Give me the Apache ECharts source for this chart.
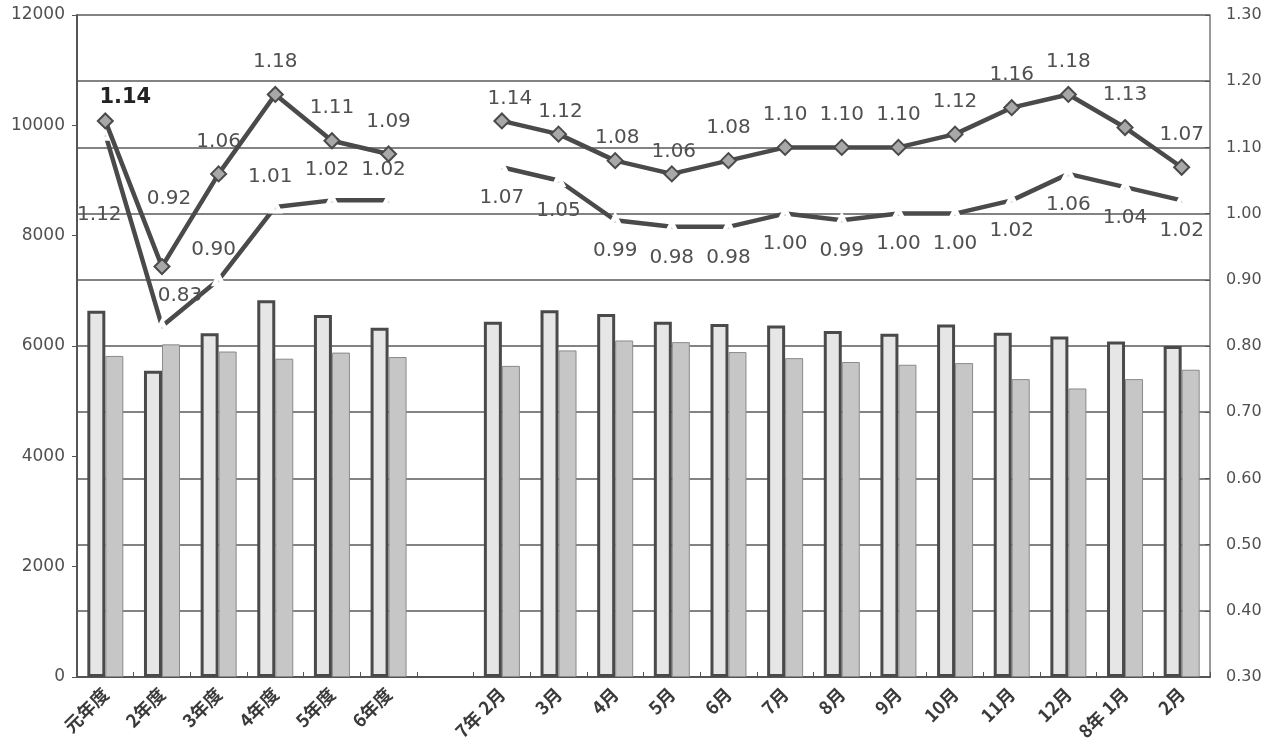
<!DOCTYPE html>
<html>
<head>
<meta charset="utf-8">
<script src="https://cdn.jsdelivr.net/npm/echarts@6/dist/echarts.min.js"></script>
<style>
  html, body { margin: 0; padding: 0; background: #fff; }
  #main { width: 1275px; height: 756px; }
</style>
</head>
<body>
<div id="main"></div>
<script>
var chartDom = document.getElementById('main');
var myChart = echarts.init(chartDom);
var option;

// categories (blank slot separates the yearly and monthly parts)
const categories = ['元年度', '2年度', '3年度', '4年度', '5年度', '6年度', '',
  '7年 2月', '3月', '4月', '5月', '6月', '7月', '8月', '9月', '10月', '11月', '12月', '8年 1月', '2月'];

// bars, left axis
const barA = [6640, 5550, 6230, 6830, 6560, 6330, null,
  6440, 6650, 6580, 6440, 6400, 6370, 6270, 6220, 6390, 6240, 6170, 6080, 6000];
const barB = [5820, 6030, 5900, 5770, 5880, 5800, null,
  5640, 5920, 6100, 6070, 5890, 5780, 5710, 5660, 5690, 5400, 5230, 5400, 5570];

// ratios, right axis
const ratioA = [1.14, 0.92, 1.06, 1.18, 1.11, 1.09, null,
  1.14, 1.12, 1.08, 1.06, 1.08, 1.10, 1.10, 1.10, 1.12, 1.16, 1.18, 1.13, 1.07];
const ratioB = [1.12, 0.83, 0.90, 1.01, 1.02, 1.02, null,
  1.07, 1.05, 0.99, 0.98, 0.98, 1.00, 0.99, 1.00, 1.00, 1.02, 1.06, 1.04, 1.02];

const leftTicks = [0, 2000, 4000, 6000, 8000, 10000, 12000];

const dark = '#555';
const textColor = '#505050';
const numFont = 'DejaVu Sans';

function fmt(p) {
  return p.value == null ? '' : Number(p.value).toFixed(2);
}

// label placement tweaks for a few points
const dataA = ratioA.map(function (v, i) {
  if (i === 0) {
    return { value: v, label: { offset: [20, 10], fontWeight: 'bold', color: '#222', fontSize: 21 } };
  }
  if (i === 1) {
    return { value: v, label: { offset: [7, -35] } };
  }
  if (i === 7) {
    return { value: v, label: { offset: [8, 10] } };
  }
  if (i >= 8 && i <= 10) {
    return { value: v, label: { offset: [2, 10] } };
  }
  return v;
});

const dataB = ratioB.map(function (v, i) {
  if (i === 0) {
    return { value: v, label: { position: 'bottom', offset: [-6, 50] } };
  }
  if (i === 1) {
    return { value: v, label: { position: 'top', offset: [18, 0] } };
  }
  if (i > 1 && i < 6) {
    return { value: v, label: { position: 'top', offset: [-5, 0] } };
  }
  return v;
});

option = {
  animation: false,
  backgroundColor: '#fff',
  grid: {
    left: 77,
    right: 65,
    top: 15,
    bottom: 79
  },
  xAxis: {
    type: 'category',
    data: categories,
    boundaryGap: true,
    axisLine: { lineStyle: { color: dark, width: 2 } },
    axisTick: { show: true, inside: true, length: 5, lineStyle: { color: dark } },
    axisLabel: {
      rotate: 45,
      interval: 0,
      fontSize: 18,
      fontWeight: 'bold',
      color: '#3a3a3a',
      fontFamily: 'Noto Sans CJK JP',
      margin: 14
    }
  },
  yAxis: [
    {
      type: 'value',
      min: 0,
      max: 12000,
      interval: 2000,
      position: 'left',
      axisLine: { show: true, lineStyle: { color: dark, width: 2 } },
      axisTick: { show: true, length: 5, lineStyle: { color: dark } },
      splitLine: { show: false },
      axisLabel: {
        fontSize: 17,
        color: textColor,
        fontFamily: numFont,
        margin: 12,
        formatter: function (v) { return leftTicks.indexOf(v) >= 0 ? String(v) : ''; }
      }
    },
    {
      type: 'value',
      min: 0.3,
      max: 1.3,
      interval: 0.1,
      position: 'right',
      axisLine: { show: true, lineStyle: { color: '#777', width: 1.5 } },
      axisTick: { show: true, inside: true, length: 5, lineStyle: { color: dark } },
      splitLine: { show: true, lineStyle: { color: '#5a5a5a', width: 1.6 } },
      axisLabel: {
        fontSize: 16,
        color: textColor,
        fontFamily: numFont,
        margin: 16,
        formatter: function (v) { return v.toFixed(2); }
      }
    }
  ],
  series: [
    {
      name: 'barA',
      type: 'bar',
      data: barA,
      barWidth: 18,
      barGap: '0%',
      itemStyle: {
        color: '#e6e6e6',
        borderColor: '#4a4a4a',
        borderWidth: 3
      },
      z: 3
    },
    {
      name: 'barB',
      type: 'bar',
      data: barB,
      barWidth: 18,
      itemStyle: {
        color: '#c6c6c6',
        borderColor: '#8a8a8a',
        borderWidth: 1
      },
      z: 3
    },
    {
      name: 'ratioB',
      type: 'line',
      yAxisIndex: 1,
      data: dataB,
      connectNulls: false,
      symbol: 'triangle',
      symbolSize: 9,
      lineStyle: { color: '#4a4a4a', width: 4.5 },
      itemStyle: { color: '#d8d8d8', borderColor: '#fff', borderWidth: 4 },
      label: {
        show: true,
        position: 'bottom',
        distance: 14,
        fontSize: 20,
        color: textColor,
        fontFamily: numFont,
        formatter: fmt
      },
      z: 5
    },
    {
      name: 'ratioA',
      type: 'line',
      yAxisIndex: 1,
      data: dataA,
      connectNulls: false,
      symbol: 'diamond',
      symbolSize: 15,
      lineStyle: { color: '#4a4a4a', width: 4.5 },
      itemStyle: { color: '#a8a8a8', borderColor: '#4a4a4a', borderWidth: 2 },
      label: {
        show: true,
        position: 'top',
        distance: 14,
        fontSize: 20,
        color: textColor,
        fontFamily: numFont,
        formatter: fmt
      },
      z: 6
    }
  ]
};

option && myChart.setOption(option);
</script>
</body>
</html>
